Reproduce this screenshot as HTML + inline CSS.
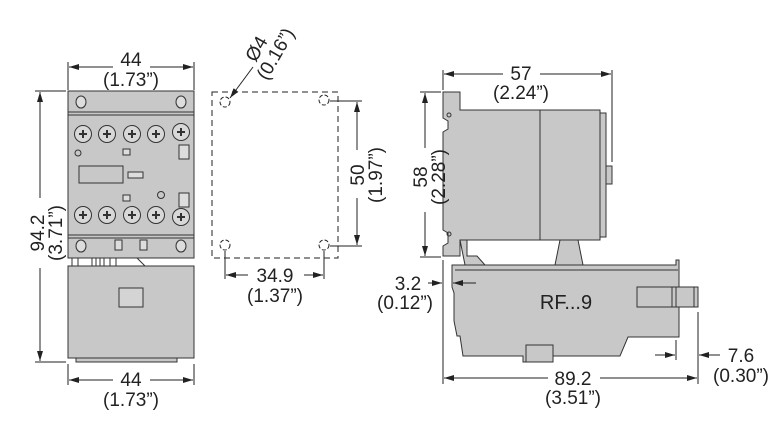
<!DOCTYPE html>
<html><head><style>
body{margin:0;background:#fff}
svg{display:block}
text{font-family:"Liberation Sans Narrow","Liberation Sans",sans-serif;font-size:19px;fill:#222}
</style></head><body>
<svg width="780" height="442" viewBox="0 0 780 442">
<defs>
<marker id="a" viewBox="0 0 10 6" refX="10" refY="3" markerWidth="10" markerHeight="6" orient="auto-start-reverse" markerUnits="userSpaceOnUse"><path d="M0,0L10,3L0,6z" fill="#222"/></marker>
</defs>
<g stroke="#222" stroke-width="1" fill="none">
<line x1="68" y1="62" x2="68" y2="90"/><line x1="194" y1="62" x2="194" y2="90"/>
<line x1="69" y1="67" x2="113" y2="67" marker-start="url(#a)"/><line x1="150" y1="67" x2="193" y2="67" marker-end="url(#a)"/>
<line x1="35" y1="91" x2="66" y2="91"/><line x1="35" y1="362" x2="66" y2="362"/>
<line x1="40" y1="92" x2="40" y2="198" marker-start="url(#a)"/><line x1="40" y1="268" x2="40" y2="361" marker-end="url(#a)"/>
<line x1="68" y1="364" x2="68" y2="385"/><line x1="194" y1="364" x2="194" y2="385"/>
<line x1="69" y1="380" x2="113" y2="380" marker-start="url(#a)"/><line x1="150" y1="380" x2="193" y2="380" marker-end="url(#a)"/>
</g>
<g stroke="#333" stroke-width="1">
<rect x="68" y="91" width="126" height="167" fill="#c8c8c9"/>
<line x1="68" y1="112" x2="194" y2="112"/><line x1="68" y1="115" x2="194" y2="115"/>
<line x1="68" y1="235" x2="194" y2="235"/><line x1="68" y1="238" x2="194" y2="238"/>
<rect x="68" y="266" width="126" height="92" fill="#c8c8c9"/>
<rect x="76" y="358" width="101" height="4" fill="#c8c8c9"/>
<rect x="119" y="288" width="24" height="19" fill="#d4d4d4"/>
<rect x="79" y="166" width="44" height="17" fill="#c8c8c9"/>
<rect x="128" y="172" width="15" height="6" fill="#ddd"/>
<rect x="123" y="149" width="7" height="6" fill="#ddd"/><rect x="123" y="195" width="7" height="6" fill="#ddd"/>
<rect x="179" y="145" width="10" height="14" fill="#ddd"/><rect x="179" y="193" width="10" height="14" fill="#ddd"/>
<circle cx="78" cy="153" r="3" fill="none"/><circle cx="161" cy="195" r="3.5" fill="none"/>
<ellipse cx="81" cy="102" rx="5" ry="6" fill="#ddd"/><ellipse cx="181" cy="102" rx="5" ry="6" fill="#ddd"/>
<ellipse cx="81" cy="246" rx="5" ry="6" fill="#ddd"/><ellipse cx="181" cy="246" rx="5" ry="6" fill="#ddd"/>
<rect x="115" y="240" width="7" height="10" fill="#ddd"/><rect x="140" y="240" width="7" height="10" fill="#ddd"/>
<g fill="#d8d8d8">
<circle cx="83" cy="134" r="8.5"/><circle cx="107" cy="134" r="8.5"/><circle cx="132" cy="134" r="8.5"/><circle cx="156" cy="134" r="8.5"/><circle cx="181" cy="132" r="8.5"/>
<circle cx="83" cy="215" r="8.5"/><circle cx="107" cy="215" r="8.5"/><circle cx="132" cy="215" r="8.5"/><circle cx="156" cy="215" r="8.5"/><circle cx="181" cy="217" r="8.5"/>
</g>
<g stroke-width="2">
<path d="M79 134h8M83 130v8M103 134h8M107 130v8M128 134h8M132 130v8M152 134h8M156 130v8M177 132h8M181 128v8"/>
<path d="M79 215h8M83 211v8M103 215h8M107 211v8M128 215h8M132 211v8M152 215h8M156 211v8M177 217h8M181 213v8"/>
</g>
<path d="M72 258v8M78 258v8M92 258v8M96 258v8M100 258v8M104 258v8M110 258v8M116 258v8M137 258l8 8" fill="none"/>
</g>
<g stroke="#222" fill="none">
<rect x="212" y="92" width="126" height="166" stroke-dasharray="6,4"/>
<circle cx="225" cy="102" r="5" stroke-dasharray="4,2"/><circle cx="324" cy="100" r="5" stroke-dasharray="4,2"/>
<circle cx="225" cy="245" r="5" stroke-dasharray="4,2"/><circle cx="324" cy="245" r="5" stroke-dasharray="4,2"/>
<line x1="253" y1="67" x2="230" y2="98" marker-end="url(#a)"/>
<line x1="330" y1="101" x2="362" y2="101"/><line x1="330" y1="246" x2="362" y2="246"/>
<line x1="357" y1="102" x2="357" y2="150" marker-start="url(#a)"/><line x1="357" y1="198" x2="357" y2="245" marker-end="url(#a)"/>
<line x1="225" y1="251" x2="225" y2="279"/><line x1="324" y1="251" x2="324" y2="279"/>
<line x1="226" y1="275" x2="248" y2="275" marker-start="url(#a)"/><line x1="304" y1="275" x2="323" y2="275" marker-end="url(#a)"/>
</g>
<g stroke="#333" stroke-width="1">
<path d="M443 92h17v18h140v130H460v16h-17v-10l5-3v-10l-5-3V132l5-3v-8l-5-3z" fill="#c8c8c9"/>
<line x1="540" y1="110" x2="540" y2="240"/>
<rect x="600" y="113" width="6" height="124" fill="#c8c8c9"/>
<rect x="606" y="166" width="6" height="18" fill="#c8c8c9"/>
<circle cx="449" cy="115" r="2" fill="none"/><circle cx="449" cy="234" r="2" fill="none"/>
<path d="M460 240h7v16h10l8 9h-20zM560 240h18l5 25h-28z" fill="#c8c8c9"/>
<path d="M452 265h224v-5h3v77h-51l-8 19h-70v6h-27v-6h-60l-3-20h-3l-3-15v-28l-2-6z" fill="#c8c8c9"/>
<line x1="455" y1="270" x2="678" y2="270"/>
<rect x="637" y="287" width="61" height="20" fill="#c8c8c9"/>
<line x1="672" y1="287" x2="672" y2="307"/><line x1="676" y1="287" x2="676" y2="307"/><line x1="694" y1="287" x2="694" y2="307"/>
<rect x="526" y="345" width="27" height="17" fill="#c8c8c9"/>
</g>
<g stroke="#222" fill="none">
<line x1="443" y1="70" x2="443" y2="90"/><line x1="612" y1="70" x2="612" y2="162"/>
<line x1="444" y1="74" x2="503" y2="74" marker-start="url(#a)"/><line x1="540" y1="74" x2="611" y2="74" marker-end="url(#a)"/>
<line x1="420" y1="92" x2="441" y2="92"/><line x1="420" y1="257" x2="441" y2="257"/>
<line x1="425" y1="93" x2="425" y2="148" marker-start="url(#a)"/><line x1="425" y1="212" x2="425" y2="256" marker-end="url(#a)"/>
<line x1="443" y1="260" x2="443" y2="384"/><line x1="698" y1="312" x2="698" y2="384"/>
<line x1="676" y1="340" x2="676" y2="360"/>
<line x1="444" y1="378" x2="548" y2="378" marker-start="url(#a)"/><line x1="600" y1="378" x2="697" y2="378" marker-end="url(#a)"/>
<line x1="428" y1="283" x2="442" y2="283" marker-end="url(#a)"/><line x1="476" y1="283" x2="453" y2="283" marker-end="url(#a)"/>
<line x1="655" y1="355" x2="675" y2="355" marker-end="url(#a)"/><line x1="720" y1="355" x2="699" y2="355" marker-end="url(#a)"/>
</g>
<text x="131" y="66" text-anchor="middle">44</text>
<text x="131" y="86" text-anchor="middle">(1.73”)</text>
<text x="131" y="386" text-anchor="middle">44</text>
<text x="131" y="406" text-anchor="middle">(1.73”)</text>
<text transform="translate(44,233) rotate(-90)" text-anchor="middle">94.2</text>
<text transform="translate(62,233) rotate(-90)" text-anchor="middle">(3.71”)</text>
<text transform="translate(262,52) rotate(-60)" text-anchor="middle">Ø4</text>
<text transform="translate(281,57) rotate(-60)" text-anchor="middle">(0.16”)</text>
<text transform="translate(364,175) rotate(-90)" text-anchor="middle">50</text>
<text transform="translate(382,175) rotate(-90)" text-anchor="middle">(1.97”)</text>
<text x="275" y="282" text-anchor="middle">34.9</text>
<text x="275" y="302" text-anchor="middle">(1.37”)</text>
<text x="521" y="80" text-anchor="middle">57</text>
<text x="521" y="99" text-anchor="middle">(2.24”)</text>
<text transform="translate(427,177) rotate(-90)" text-anchor="middle">58</text>
<text transform="translate(445,177) rotate(-90)" text-anchor="middle">(2.28”)</text>
<text x="408" y="290" text-anchor="middle">3.2</text>
<text x="405" y="309" text-anchor="middle">(0.12”)</text>
<text x="566" y="309" text-anchor="middle" style="font-size:20px">RF...9</text>
<text x="573" y="385" text-anchor="middle">89.2</text>
<text x="573" y="404" text-anchor="middle">(3.51”)</text>
<text x="741" y="362" text-anchor="middle">7.6</text>
<text x="741" y="382" text-anchor="middle">(0.30”)</text>
</svg>
</body></html>
